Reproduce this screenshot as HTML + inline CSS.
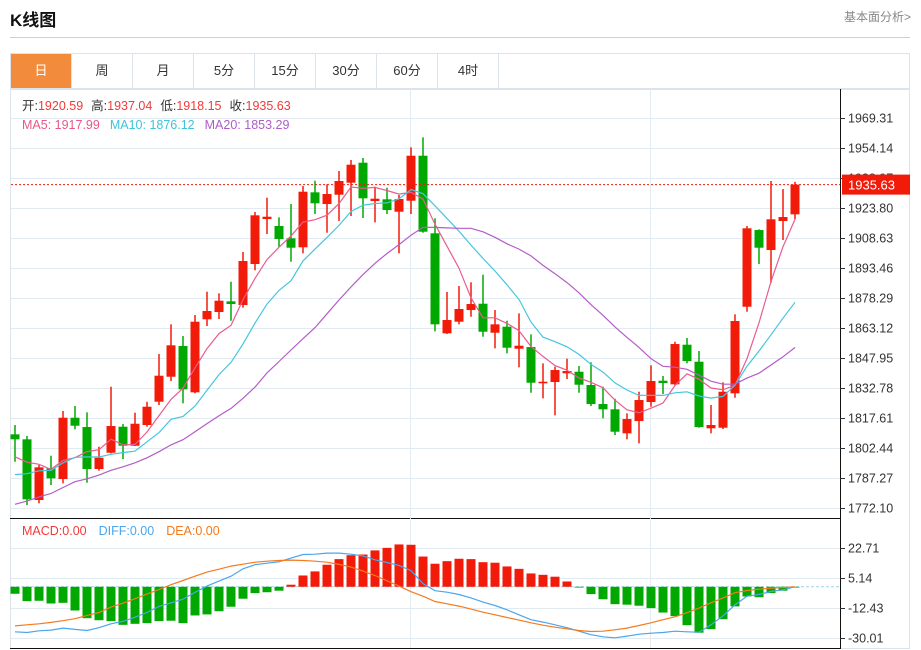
<!DOCTYPE html>
<html><head><meta charset="utf-8">
<style>
body{margin:0;background:#fff;font-family:"Liberation Sans","Noto Sans CJK SC",sans-serif;}
#wrap{position:relative;width:921px;height:650px;overflow:hidden;}
.title{position:absolute;left:10px;top:6px;font-size:17px;font-weight:bold;color:#111;}
.link{position:absolute;right:10px;top:8px;font-size:12px;color:#888;}
.hr{position:absolute;left:10px;top:37px;width:900px;height:1px;background:#d0d0d0;}
.tabs{position:absolute;left:10px;top:53px;height:36px;width:900px;border:1px solid #dde3ea;box-sizing:border-box;display:flex;}
.tab{width:61px;height:34px;line-height:34px;text-align:center;font-size:13px;color:#333;border-right:1px solid #dde3ea;box-sizing:border-box;}
.tab.on{background:#f28c3c;color:#fff;}
svg{position:absolute;left:0;top:0;}
</style></head><body>
<div id="wrap">
<div class="title">K线图</div>
<div class="link">基本面分析&gt;</div>
<div class="hr"></div>
<div class="tabs">
<div class="tab on">日</div>
<div class="tab">周</div>
<div class="tab">月</div>
<div class="tab">5分</div>
<div class="tab">15分</div>
<div class="tab">30分</div>
<div class="tab">60分</div>
<div class="tab">4时</div>
</div>
<svg id="chart" width="921" height="650"></svg>
</div>
<script>
const opens=[1809.35,1806.83,1776.13,1792.16,1786.75,1817.75,1813.05,1791.81,1800.05,1813.20,1803.59,1814.06,1825.84,1838.48,1854.01,1830.59,1867.51,1871.20,1876.61,1874.74,1895.48,1918.23,1914.69,1908.47,1903.92,1931.73,1925.82,1930.52,1936.59,1946.70,1927.33,1928.19,1921.92,1927.49,1950.24,1911.00,1860.43,1866.30,1872.21,1875.40,1860.73,1863.77,1852.64,1853.50,1835.15,1835.80,1840.20,1841.01,1834.29,1824.68,1822.00,1809.86,1816.08,1825.69,1836.46,1834.64,1854.67,1846.07,1812.39,1812.69,1830.09,1873.88,1912.67,1902.55,1917.22,1920.59];
const highs=[1814.06,1808.49,1793.83,1798.53,1821.14,1823.67,1820.48,1803.08,1833.43,1814.56,1820.28,1825.84,1849.96,1864.98,1859.06,1869.68,1881.47,1880.66,1886.52,1901.54,1921.77,1929.00,1919.09,1925.82,1934.92,1937.60,1935.78,1942.51,1948.07,1949.08,1934.57,1934.06,1930.37,1954.49,1959.55,1918.59,1881.32,1884.35,1886.22,1890.06,1872.21,1866.80,1870.54,1859.92,1845.26,1843.54,1847.59,1843.89,1845.76,1833.43,1827.36,1819.97,1830.90,1844.25,1838.84,1856.18,1858.05,1851.48,1824.17,1835.65,1870.04,1914.69,1913.02,1937.45,1933.40,1937.04];
const lows=[1795.50,1773.60,1774.46,1783.72,1784.58,1811.88,1784.88,1790.95,1799.75,1796.86,1803.44,1813.20,1824.17,1836.31,1825.03,1830.09,1864.12,1867.66,1866.80,1873.38,1892.29,1910.65,1904.22,1896.64,1900.89,1920.76,1911.30,1917.22,1919.75,1918.74,1916.56,1920.76,1900.89,1920.76,1911.30,1861.44,1860.08,1864.98,1868.82,1858.71,1852.84,1850.32,1843.24,1830.39,1827.56,1818.96,1837.32,1830.39,1823.67,1817.45,1809.00,1806.83,1804.80,1823.31,1829.73,1834.29,1845.26,1812.69,1809.86,1812.03,1827.86,1871.35,1895.48,1886.02,1907.61,1918.15];
const closes=[1806.83,1776.48,1792.67,1787.10,1817.75,1813.70,1791.81,1797.52,1813.55,1803.59,1814.71,1823.31,1838.99,1854.36,1832.11,1866.30,1871.71,1876.92,1875.25,1896.99,1920.10,1919.39,1908.12,1903.72,1932.04,1926.17,1930.87,1937.45,1945.69,1928.70,1928.50,1922.78,1928.35,1950.24,1911.81,1864.98,1867.16,1872.72,1875.25,1861.24,1864.98,1853.15,1854.16,1835.45,1835.95,1841.87,1841.37,1834.44,1824.68,1822.00,1810.67,1817.09,1826.70,1836.31,1835.30,1855.02,1846.42,1813.05,1814.06,1830.90,1866.65,1913.53,1903.72,1918.08,1919.24,1935.63];
const priorCloses=[1745,1750,1752,1758,1755,1762,1760,1765,1768,1775,1772,1778,1785,1780,1785,1790,1798,1800,1795];
const macdBars=[-4.1,-8.4,-8.2,-9.8,-9.4,-13.9,-18.4,-19.6,-20.1,-22.3,-21.7,-21.3,-20.1,-19.9,-21.3,-16.8,-16.2,-14.3,-11.7,-7.0,-3.7,-3.2,-2.3,1.2,6.6,9.0,12.9,16.2,18.5,18.9,21.3,22.8,24.8,24.6,17.7,13.5,15.0,16.4,16.2,14.4,14.1,11.9,10.5,7.8,7.0,5.9,3.1,-0.3,-4.3,-7.3,-10.2,-10.5,-11.1,-12.5,-15.1,-17.2,-22.5,-26.9,-24.8,-19.0,-11.5,-5.7,-6.1,-3.7,-2.3,-0.3];
const diffLine=[-26.4,-26.8,-25.8,-25.4,-24.2,-25.0,-25.6,-24.0,-21.7,-20.3,-17.8,-15.1,-11.5,-9.4,-7.3,-3.3,0.4,3.3,6.2,10.5,12.9,13.8,14.6,16.8,18.9,19.1,19.7,19.7,19.1,18.1,15.8,14.2,12.5,9.5,1.8,-2.3,-3.2,-4.5,-6.5,-9.0,-11.0,-13.5,-16.4,-19.3,-20.7,-22.3,-24.0,-26.0,-28.1,-29.3,-29.9,-28.9,-27.8,-27.2,-26.8,-26.0,-26.4,-26.6,-22.3,-17.0,-10.6,-5.5,-4.5,-2.8,-1.8,0];
const deaLine=[-22.9,-22.3,-21.7,-20.9,-19.9,-18.7,-16.8,-15.1,-11.9,-9.6,-7.0,-4.3,-1.6,1.2,3.7,6.2,8.6,10.3,12.1,13.2,14.4,15.0,15.4,15.6,15.4,15.0,14.4,13.1,11.5,9.2,6.6,3.5,0.4,-2.9,-5.5,-8.6,-10.0,-11.3,-13.1,-14.9,-16.4,-18.0,-19.5,-21.1,-22.5,-23.7,-24.6,-25.6,-26.2,-26.0,-25.2,-24.2,-22.7,-21.1,-19.3,-17.6,-15.2,-12.5,-9.4,-6.5,-3.5,-2.2,-1.4,-0.8,-0.4,0];
const priceTicks=[1969.31,1954.14,1938.97,1923.80,1908.63,1893.46,1878.29,1863.12,1847.95,1832.78,1817.61,1802.44,1787.27,1772.10];
const macdTicks=[22.71,5.14,-12.43,-30.01];
const lastPrice=1935.63;

const NS='http://www.w3.org/2000/svg';
const svg=document.getElementById('chart');
function mk(tag,attrs,parent){const e=document.createElementNS(NS,tag);for(const k in attrs)e.setAttribute(k,attrs[k]);(parent||svg).appendChild(e);return e;}
const yP=v=>118+(1969.31-v)*390/(1969.31-1772.10);
const yM=v=>548+(22.71-v)*90/(22.71+30.01);
const xC=i=>15+i*12;

// frame
let g=mk('g',{});


mk('rect',{x:10.5,y:89.5,width:899,height:559,fill:'none',stroke:'#dde3ea'},g);
// grid
let grid=mk('g',{});


priceTicks.forEach(t=>mk('line',{x1:11,x2:840,y1:yP(t)+.5,y2:yP(t)+.5,stroke:'#e3ebf2'},grid));
macdTicks.forEach(t=>mk('line',{x1:11,x2:840,y1:Math.round(yM(t))+.5,y2:Math.round(yM(t))+.5,stroke:'#e3ebf2'},grid));
[410.5,650.5].forEach(x=>mk('line',{x1:x,x2:x,y1:89,y2:648,stroke:'#e3ebf2'},grid));
mk('line',{x1:10,x2:841,y1:518.5,y2:518.5,stroke:'#111'},g);
mk('line',{x1:10,x2:841,y1:648.5,y2:648.5,stroke:'#111'},g);
mk('line',{x1:840.5,x2:840.5,y1:89,y2:649,stroke:'#111'},g);
// axis labels
let ax=mk('g',{});


priceTicks.forEach(t=>{const y=yP(t);mk('line',{x1:840,x2:845,y1:y+.5,y2:y+.5,stroke:'#333'},ax);
 const tx=mk('text',{x:848,y:y+4.5,'font-size':12.5,fill:'#333'},ax);tx.textContent=t.toFixed(2);});
let ax2=mk('g',{});


macdTicks.forEach(t=>{const y=Math.round(yM(t));mk('line',{x1:840,x2:845,y1:y+.5,y2:y+.5,stroke:'#333'},ax2);
 const tx=mk('text',{x:848,y:y+4.5,'font-size':12.5,fill:'#333'},ax2);tx.textContent=t.toFixed(2);});
// candles
const RED='#f21b0a',GRN='#02a802';
let cg=mk('g',{});


opens.forEach((o,i)=>{const c=closes[i],col=c>=o?RED:GRN,x=xC(i);
 const el=mk('g',{},cg);
 
 
 mk('line',{x1:x,x2:x,y1:yP(highs[i]),y2:yP(lows[i]),stroke:col,'stroke-width':1.5},el);
 const t=yP(Math.max(o,c)),b=yP(Math.min(o,c));
 mk('rect',{x:x-4.5,y:t,width:9,height:Math.max(b-t,1.5),fill:col},el);});
// MAs
function ma(n){const all=priorCloses.concat(closes),off=priorCloses.length;return closes.map((_,i)=>{let s=0;for(let k=0;k<n;k++)s+=all[off+i-k];return s/n;});}
[[5,'#ea5c8e','ma5-line'],[10,'#45c6dc','ma10-line'],[20,'#b45dc6','ma20-line']].forEach(([n,col,name])=>{
 const pts=ma(n).map((v,i)=>xC(i)+','+yP(v).toFixed(1)).join(' ');
 const p=mk('polyline',{points:pts,fill:'none',stroke:col,'stroke-width':1.2});
 
 });
// last price line
const ly=yP(lastPrice);
const lp=mk('line',{x1:11,x2:840,y1:ly,y2:ly,stroke:RED,'stroke-dasharray':'2,2'});


const lb=mk('g',{});


mk('rect',{x:842,y:ly-10,width:68,height:20,fill:RED},lb);
const lt=mk('text',{x:848,y:ly+5,'font-size':13,fill:'#fff'},lb);lt.textContent=lastPrice.toFixed(2);
// macd
const z=yM(0);
const zl=mk('line',{x1:11,x2:840,y1:z,y2:z,stroke:'#9fd4ec','stroke-dasharray':'3,2'});


let mg=mk('g',{});


macdBars.forEach((v,i)=>{const y=yM(v);const r=mk('rect',{x:xC(i)-4.5,y:Math.min(y,z),width:9,height:Math.max(Math.abs(y-z),0.8),fill:v>=0?RED:GRN},mg);
 
 });
[[diffLine,'#4aa6ee','diff-line'],[deaLine,'#f57a1e','dea-line']].forEach(([arr,col,name])=>{
 const p=mk('polyline',{points:arr.map((v,i)=>xC(i)+','+yM(v).toFixed(1)).join(' '),fill:'none',stroke:col,'stroke-width':1.2});
 
 });
// legends
function legend(y,items,name){const t=mk('text',{x:22,y:y,'font-size':12.5});
 
 
 items.forEach(([s,c,dx])=>{const sp=mk('tspan',{fill:c},t);if(dx)sp.setAttribute('dx',dx);sp.textContent=s;});}
legend(110,[['开:','#333'],['1920.59','#f03a3a'],['高:','#333',8],['1937.04','#f03a3a'],['低:','#333',8],['1918.15','#f03a3a'],['收:','#333',8],['1935.63','#f03a3a']],'ohlc-legend');
legend(129,[['MA5: 1917.99','#e8578a'],['MA10: 1876.12','#3fc3d8',10],['MA20: 1853.29','#b05cc8',10]],'ma-legend');
legend(535,[['MACD:0.00','#f03a3a'],['DIFF:0.00','#4aa6ee',12],['DEA:0.00','#f57a1e',12]],'macd-legend');
</script>
</body></html>
